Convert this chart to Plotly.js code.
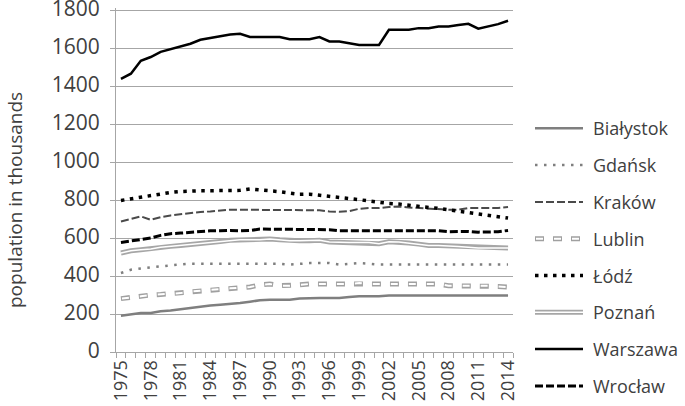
<!DOCTYPE html>
<html><head><meta charset="utf-8">
<script src="https://cdn.plot.ly/plotly-3.0.1.min.js"></script>
<style>html,body{margin:0;padding:0;background:#fff}#chart{width:685px;height:406px}</style>
</head><body><div id="chart"></div>
<script>
const years = [1975,1976,1977,1978,1979,1980,1981,1982,1983,1984,1985,1986,1987,1988,1989,1990,1991,1992,1993,1994,1995,1996,1997,1998,1999,2000,2001,2002,2003,2004,2005,2006,2007,2008,2009,2010,2011,2012,2013,2014];
const cities = ['Białystok','Gdańsk','Kraków','Lublin','Łódź','Poznań','Warszawa','Wrocław'];
const yTicks = [0,200,400,600,800,1000,1200,1400,1600,1800];

const bialystok = [191,200,205,205,214,219,226,231,240,245,249,252,258,265,272,275,275,275,281,284,284,284,284,289,293,293,293,298,298,298,298,298,298,298,298,298,298,298,298,298];
const gdansk    = [416,433,440,444,451,456,461,465,465,465,465,465,465,465,468,465,465,460,465,468,468,468,460,463,468,465,460,460,460,460,460,460,460,460,460,460,460,460,460,460];
const krakow    = [687,701,714,696,710,719,726,731,737,740,744,749,749,749,749,749,749,749,749,749,746,740,738,742,754,758,758,763,766,761,758,754,752,749,749,758,758,758,758,763];
const lublin    = [281,289,293,300,303,307,310,319,324,328,331,335,337,342,353,358,349,349,354,358,358,358,358,358,363,358,358,358,358,358,358,358,358,349,349,349,349,349,345,342];
const lodz      = [798,807,816,824,833,840,845,849,849,849,849,849,851,858,854,849,844,837,830,831,826,819,816,810,802,795,788,782,779,772,767,761,756,749,744,737,726,721,714,705];
const poznan    = [521,533,538,542,551,556,561,565,570,577,582,588,591,591,591,595,591,586,586,586,588,579,577,577,577,577,570,580,579,574,568,561,561,559,556,551,547,547,547,547];
const warszawa  = [1438,1465,1533,1553,1580,1595,1608,1623,1644,1654,1663,1672,1675,1658,1658,1658,1658,1647,1647,1647,1658,1635,1635,1626,1616,1616,1616,1696,1696,1696,1705,1705,1714,1714,1721,1728,1702,1714,1726,1744];
const wroclaw   = [577,586,595,600,614,623,626,630,635,638,638,640,638,640,647,647,647,647,647,647,647,644,638,638,638,638,638,638,638,638,638,638,638,633,635,635,631,631,633,640];

const series = [bialystok, gdansk, krakow, lublin, lodz, poznan, warszawa, wroclaw];

// line styles (each city may be drawn in layers, e.g. outline + white core)
const styles = [
  [{color:'#7f7f7f', width:2.5, dash:'solid'}],
  [{color:'#7f7f7f', width:2.5, dash:'2.5px,6.5px'}],
  [{color:'#4a4a4a', width:2, dash:'8px,3px'}],
  [{color:'#a0a0a0', width:5, dash:'9px,9px'}, {color:'#ffffff', width:2, dash:'0px,1px,7px,10px'}],
  [{color:'#000000', width:3.5, dash:'3.5px,5.5px'}],
  [{color:'#a6a6a6', width:5, dash:'solid'}, {color:'#ffffff', width:1.5, dash:'solid'}],
  [{color:'#000000', width:2.5, dash:'solid'}],
  [{color:'#000000', width:3, dash:'8px,3px'}]
];

const traces = [];
series.forEach((vals, i) => {
  styles[i].forEach(st => {
    traces.push({
      x: years, y: vals, type: 'scatter', mode: 'lines', name: cities[i],
      showlegend: false, hoverinfo: 'x+y+name',
      line: {color: st.color, width: st.width, dash: st.dash}
    });
  });
});

// plot area (pixels); top is a little above the 1800 gridline so the grid line is kept
const plotL = 116, plotR = 513, plotT = 8, plotB = 352;
const W = 685, H = 406;
function px(x){ return (x - plotL) / (plotR - plotL); }
function py(y){ return (plotB - y) / (plotB - plotT); }

const legX0 = 535, legX1 = 583, legTextX = 591, legY0 = 128.3, legStep = 36.8;
const shapes = [], annotations = [];
cities.forEach((c, i) => {
  const yc = legY0 + i * legStep;
  styles[i].forEach(st => {
    shapes.push({type:'line', xref:'paper', yref:'paper', x0:px(legX0), x1:px(legX1), y0:py(yc), y1:py(yc),
                 line:{color:st.color, width:st.width, dash:st.dash}});
  });
  annotations.push({text:c, xref:'paper', yref:'paper', x:px(legTextX), y:py(yc), xanchor:'left', yanchor:'middle',
                    showarrow:false, font:{size:18, color:'#404040'}});
});
annotations.push({text:'population in thousands', xref:'paper', yref:'paper', x:px(15), y:py(200), textangle:-90,
                  xanchor:'center', yanchor:'middle', showarrow:false, font:{size:19, color:'#404040'}});

const layout = {
  width: W, height: H,
  margin: {l: plotL, r: W - plotR, t: plotT, b: H - plotB, pad: 0},
  paper_bgcolor: '#ffffff', plot_bgcolor: '#ffffff',
  showlegend: false,
  font: {family: '"Open Sans", sans-serif', color: '#404040'},
  xaxis: {
    range: [1974.5, 2014.5], tickmode: 'linear', tick0: 1975, dtick: 3, tickangle: -90,
    tickfont: {size: 18}, ticks: '', showgrid: false, zeroline: false, ticklabeloverflow: 'allow',
    showline: true, linecolor: '#a6a6a6', linewidth: 1,
    minor: {tickmode: 'linear', tick0: 1974.5, dtick: 1, ticks: 'outside', ticklen: 5, tickcolor: '#a6a6a6', tickwidth: 1, showgrid: false}
  },
  yaxis: {
    range: [0, 1811], tickmode: 'array', tickvals: yTicks, ticktext: yTicks.map(String),
    ticks: 'outside', ticklen: 5, tickcolor: '#a6a6a6', tickwidth: 1, ticklabeloverflow: 'allow',
    showgrid: true, gridcolor: '#a6a6a6', gridwidth: 1, zeroline: false,
    showline: true, linecolor: '#a6a6a6', linewidth: 1,
    tickfont: {size: 21}, ticklabelstandoff: 6, ticklabelshift: -1
  },
  shapes: shapes,
  annotations: annotations
};

Plotly.newPlot('chart', traces, layout, {displayModeBar: false, staticPlot: true});
</script>
</body></html>
